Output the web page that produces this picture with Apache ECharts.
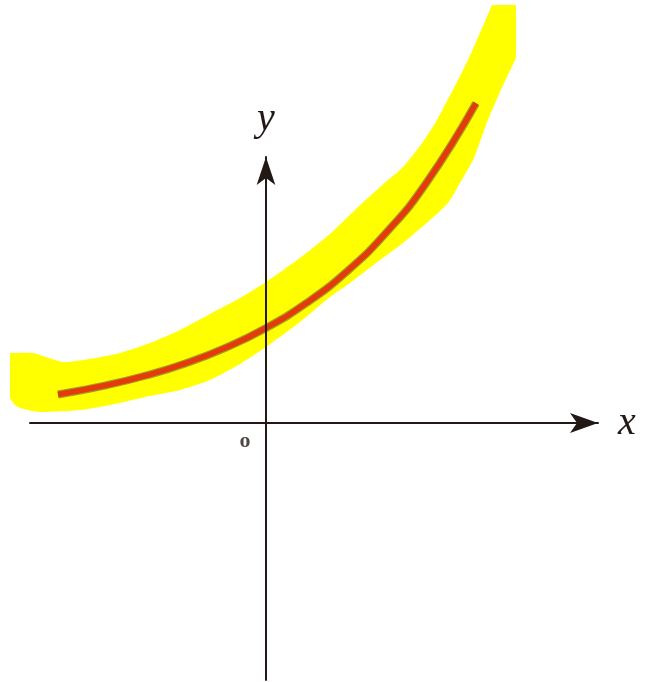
<!DOCTYPE html>
<html>
<head>
<meta charset="utf-8">
<style>html,body{margin:0;padding:0;background:#fff;}#c{width:646px;height:682px;}</style>
<script src="https://cdn.jsdelivr.net/npm/echarts@6/dist/echarts.min.js"></script>
</head>
<body>
<div id="c"></div>
<script>
// Red curve, units: 1 = 100px
const curveX = [-2.08, -1.6, -1.2, -0.8, -0.4, 0, 0.4, 0.8, 1.2, 1.6, 2.1];
const curveY = [0.285, 0.377, 0.475, 0.598, 0.754, 0.95, 1.197, 1.508, 1.901, 2.396, 3.198];

// Yellow highlight band outline
const bandTopX = [-2.56, -2.33, -2.03, -1.76, -1.46, -1.16, -0.86, -0.56, -0.26, 0, 0.34, 0.64, 0.91, 1.14, 1.37, 1.54, 1.71, 2.02, 2.26, 2.50, 2.50];
const bandTopY = [0.70, 0.70, 0.61, 0.64, 0.70, 0.80, 0.93, 1.09, 1.25, 1.41, 1.65, 1.89, 2.15, 2.36, 2.56, 2.77, 3.03, 3.63, 4.18, 4.18, 3.65];
const bandBotX = [2.34, 2.20, 2.08, 1.94, 1.82, 1.64, 1.37, 1.14, 0.84, 0.64, 0.34, 0, -0.26, -0.56, -0.86, -1.16, -1.56, -1.86, -2.26, -2.46, -2.52, -2.56];
const bandBotY = [3.31, 2.98, 2.65, 2.40, 2.20, 2.03, 1.80, 1.63, 1.40, 1.26, 1.01, 0.76, 0.59, 0.43, 0.33, 0.27, 0.18, 0.13, 0.11, 0.15, 0.19, 0.25];

const xMin = -2.36, xMax = 3.32, yMin = -2.57, yMax = 2.66;
const originLabel = 'o';

const curveData = curveX.map((x, i) => [x, curveY[i]]);
const topPts = bandTopX.map((x, i) => [x, bandTopY[i]]);
const botPts = bandBotX.map((x, i) => [x, bandBotY[i]]);
const bandPts = topPts.concat(botPts);
// outline corners that stay sharp (clipped ends of the highlight)
const cornerIdx = [0, topPts.length - 3, topPts.length - 2, topPts.length - 1, bandPts.length - 1];

const axisColor = '#231815';
const chart = echarts.init(document.getElementById('c'));
chart.setOption({
  backgroundColor: '#ffffff',
  animation: false,
  grid: { left: 30, right: 48, top: 157, bottom: 2, containLabel: false, outerBoundsMode: 'none' },
  xAxis: {
    type: 'value', min: xMin, max: xMax, z: 10,
    name: 'x', nameLocation: 'end', nameGap: 20,
    nameTextStyle: { fontFamily: 'Liberation Serif', fontStyle: 'italic', fontSize: 40, color: axisColor, verticalAlign: 'middle' },
    axisLine: { show: true, onZero: true, lineStyle: { color: axisColor, width: 2 }, symbol: ['none', 'arrow'], symbolSize: [15, 28] },
    axisTick: { show: false },
    splitLine: { show: false },
    axisLabel: { show: false }
  },
  yAxis: {
    type: 'value', min: yMin, max: yMax, z: 10,
    name: 'y', nameLocation: 'end', nameGap: 18,
    nameTextStyle: { fontFamily: 'Liberation Serif', fontStyle: 'italic', fontSize: 40, color: axisColor },
    axisLine: { show: true, onZero: true, lineStyle: { color: axisColor, width: 2 }, symbol: ['none', 'arrow'], symbolSize: [14, 28] },
    axisTick: { show: false },
    splitLine: { show: false },
    axisLabel: { show: false }
  },
  series: [
    {
      type: 'custom', z: 1, clip: false,
      data: [[0, 0]],
      renderItem: function (params, api) {
        const pts = [];
        bandPts.forEach((p, i) => {
          const c = api.coord(p);
          pts.push(c);
          if (cornerIdx.indexOf(i) >= 0) { pts.push(c.slice()); }
        });
        return { type: 'polygon', shape: { points: pts, smooth: 0.2 }, style: { fill: '#ffff00', stroke: null } };
      }
    },
    {
      type: 'line', z: 3, data: curveData, smooth: true, symbol: 'none', clip: false,
      lineStyle: { color: '#a59d22', width: 8, cap: 'butt' }
    },
    {
      type: 'line', z: 4, data: curveData, smooth: true, symbol: 'none', clip: false,
      lineStyle: { color: '#e53a0c', width: 5.5, cap: 'butt' }
    },
    {
      type: 'scatter', z: 5, data: [[0, 0]], symbolSize: 0, silent: true,
      label: {
        show: true, position: 'inside', offset: [-21, 18],
        formatter: () => originLabel,
        fontFamily: 'Liberation Serif', fontWeight: 'bold', fontSize: 22, color: axisColor
      }
    }
  ]
});
</script>
</body>
</html>
